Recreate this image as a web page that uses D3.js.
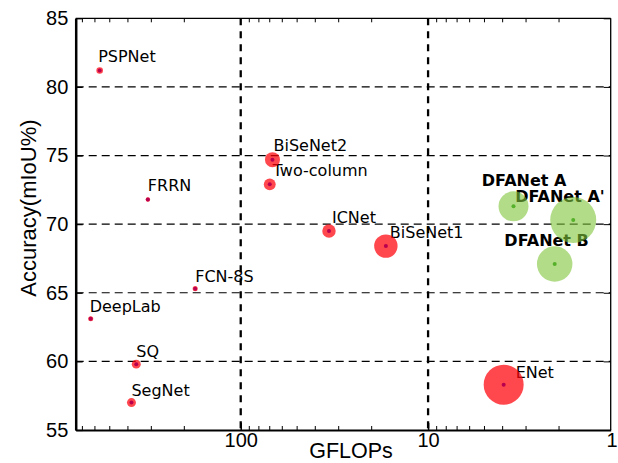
<!DOCTYPE html>
<html>
<head>
<meta charset="utf-8">
<script src="https://cdn.jsdelivr.net/npm/d3@7"></script>
<style>
  body { margin: 0; background: #fff; }
  svg { display: block; }
</style>
</head>
<body>
<svg id="chart" width="618" height="463"></svg>
<script>
// values
var models   = ['PSPNet', 'DeepLab', 'SegNet', 'SQ', 'FRRN', 'FCN-8S', 'Two-column',
                'BiSeNet2', 'ICNet', 'BiSeNet1', 'ENet', 'DFANet A', "DFANet A'", 'DFANet B'];
var gflops   = [566, 632, 383, 361, 313, 175, 70, 67.7, 33.8, 16.8, 3.95, 3.5, 1.68, 2.11];
var accuracy = [81.2, 63.1, 57.0, 59.8, 71.8, 65.3, 72.9, 74.7, 69.5, 68.4, 58.3, 71.3, 70.3, 67.1];
var speed    = [10, 4, 19, 19, 1.5, 4, 30, 42, 36, 74, 137, 99, 160, 120];   // bubble size value
var ours     = [0, 0, 0, 0, 0, 0, 0, 0, 0, 0, 0, 1, 1, 1];

var xTicks = [100, 10, 1];
var yTicks = [55, 60, 65, 70, 75, 80, 85];
var xGuides = [100, 10];

// label placement relative to the point (px)
var labelDx = [-1.5, -1, 0, 0, 0, 0, 3, 1, 3, 4, 12, -31.7, -58, -50.3];
var labelDy = [-8.5, -7, -7, -7, -8, -7, -8.4, -9, -8.3, -7.8, -7, -20.2, -18, -18];

var width = 618, height = 463;
var margin = {top: 18.3, right: 7.3, bottom: 33, left: 75.7};
var w = width - margin.left - margin.right;
var h = height - margin.top - margin.bottom;

var svg = d3.select('#chart');
var g = svg.append('g').attr('transform', 'translate(' + margin.left + ',' + margin.top + ')');

var x = d3.scaleLog().domain([760, 1.06]).range([0, w]);
var y = d3.scaleLinear().domain([55, 85]).range([h, 0]);
var r = d3.scaleLinear().domain([0, 160]).range([2, 23]);

// horizontal grid
g.selectAll('.hgrid')
  .data(yTicks.slice(1, -1))
  .enter().append('line')
  .attr('x1', 0).attr('x2', w)
  .attr('y1', function (d) { return y(d); })
  .attr('y2', function (d) { return y(d); })
  .attr('stroke', '#000').attr('stroke-width', 1.2)
  .attr('stroke-dasharray', '8,5');

// vertical guides
g.selectAll('.vguide')
  .data(xGuides)
  .enter().append('line')
  .attr('x1', function (d) { return x(d); })
  .attr('x2', function (d) { return x(d); })
  .attr('y1', 0).attr('y2', h)
  .attr('stroke', '#000').attr('stroke-width', 2.3)
  .attr('stroke-dasharray', '7,6');

// minor ticks on bottom and top
var minor = x.ticks().filter(function (d) { return xTicks.indexOf(d) < 0; });
g.selectAll('.minB')
  .data(minor).enter().append('line')
  .attr('x1', function (d) { return x(d); }).attr('x2', function (d) { return x(d); })
  .attr('y1', h).attr('y2', h - 4)
  .attr('stroke', '#000').attr('stroke-width', 1);
g.selectAll('.minT')
  .data(minor).enter().append('line')
  .attr('x1', function (d) { return x(d); }).attr('x2', function (d) { return x(d); })
  .attr('y1', 0).attr('y2', 4)
  .attr('stroke', '#000').attr('stroke-width', 1);

// top and right frame
g.append('line').attr('x1', 0).attr('x2', w).attr('y1', 0).attr('y2', 0)
  .attr('stroke', '#000').attr('stroke-width', 1.3);
g.append('line').attr('x1', w).attr('x2', w).attr('y1', 0).attr('y2', h)
  .attr('stroke', '#000').attr('stroke-width', 1.3);

// axes
var xAxis = g.append('g')
  .attr('transform', 'translate(0,' + h + ')')
  .call(d3.axisBottom(x).tickValues(xTicks).tickFormat(d3.format('d'))
        .tickSizeInner(-7).tickSizeOuter(0).tickPadding(3));
xAxis.select('.domain').attr('stroke-width', 2);
xAxis.selectAll('.tick line').attr('stroke-width', 1.5)
  .filter(function (d) { return d < 1.06; }).remove();
xAxis.selectAll('.tick text')
  .attr('font-family', '"Liberation Sans", Arial, sans-serif')
  .attr('font-size', 20).attr('fill', '#000')
  .attr('dx', function (d) { return d < 1.06 ? -4 : 0; });

var yAxis = g.append('g')
  .call(d3.axisLeft(y).tickValues(yTicks)
        .tickSizeInner(-7).tickSizeOuter(0).tickPadding(7.4));
yAxis.select('.domain').attr('stroke-width', 2.5);
yAxis.selectAll('.tick line').attr('stroke-width', 1.2);
yAxis.selectAll('.tick text')
  .attr('font-family', '"Liberation Sans", Arial, sans-serif')
  .attr('font-size', 20).attr('fill', '#000');

g.append('g')
  .attr('transform', 'translate(' + w + ',0)')
  .call(d3.axisRight(y).tickValues(yTicks).tickSizeInner(-7).tickSizeOuter(0).tickFormat(''))
  .select('.domain').remove();

// axis titles
svg.append('text')
  .attr('x', 351).attr('y', 457.5)
  .attr('text-anchor', 'middle')
  .attr('font-family', '"Liberation Sans", Arial, sans-serif')
  .attr('font-size', 21.5)
  .text('GFLOPs');

svg.append('text')
  .attr('transform', 'translate(36,208) rotate(-90)')
  .attr('text-anchor', 'middle')
  .attr('font-family', '"Liberation Sans", Arial, sans-serif')
  .attr('font-size', 22)
  .text('Accuracy(mIoU%)');

var idx = d3.range(models.length);

// labels (drawn under the bubbles)
g.selectAll('.label')
  .data(idx).enter().append('text')
  .attr('x', function (i) { return x(gflops[i]) + labelDx[i]; })
  .attr('y', function (i) { return y(accuracy[i]) + labelDy[i]; })
  .attr('font-family', '"DejaVu Sans", sans-serif')
  .attr('font-size', 16)
  .attr('font-weight', function (i) { return ours[i] ? 'bold' : 'normal'; })
  .attr('fill', '#000')
  .text(function (i) { return models[i]; });

// bubbles
g.selectAll('.bubble')
  .data(idx).enter().append('circle')
  .attr('cx', function (i) { return x(gflops[i]); })
  .attr('cy', function (i) { return y(accuracy[i]); })
  .attr('r', function (i) { return r(speed[i]); })
  .attr('fill', function (i) { return ours[i] ? '#7fc537' : '#ff000a'; })
  .attr('fill-opacity', function (i) { return ours[i] ? 0.6 : 0.72; });

// centre dots
g.selectAll('.dot')
  .data(idx).enter().append('circle')
  .attr('cx', function (i) { return x(gflops[i]); })
  .attr('cy', function (i) { return y(accuracy[i]); })
  .attr('r', 2)
  .attr('fill', function (i) { return ours[i] ? '#55b02a' : '#b8004e'; });
</script>
</body>
</html>
